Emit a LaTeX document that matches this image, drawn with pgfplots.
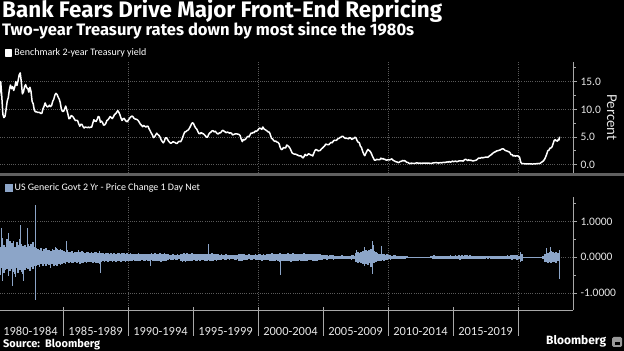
\documentclass[border=0pt]{standalone}
\usepackage{pgfplots}
\pgfplotsset{compat=1.18}
\usepackage{pgfplotstable}
\usepackage{fontspec}
\setmainfont{Carlito}
\newfontfamily\titlefont{Fira Sans}
\definecolor{bandblue}{HTML}{8CA5C8}
\definecolor{gridgray}{HTML}{5A5A5A}
\definecolor{axisgray}{HTML}{A8A8A8}
\definecolor{labgray}{HTML}{E8E8E8}
\definecolor{sepgray}{HTML}{606060}

\pgfplotstableread[row sep=\\]{
y\\
11.12\\13.08\\15.03\\12.35\\9.11\\8.52\\8.76\\10.03\\11.49\\12.13\\13.56\\14.39\\
13.73\\14.11\\13.41\\14.07\\15.01\\14.32\\15.17\\16.20\\16.60\\15.02\\12.80\\13.14\\
14.10\\14.47\\13.89\\13.78\\13.10\\13.99\\13.19\\11.42\\11.01\\9.86\\9.56\\9.58\\
9.43\\9.48\\9.43\\9.26\\9.30\\10.07\\10.55\\11.16\\10.69\\10.44\\10.50\\10.75\\
10.51\\10.71\\11.44\\11.85\\12.57\\12.90\\12.71\\12.23\\11.85\\11.21\\10.01\\9.65\\
9.64\\10.07\\10.60\\9.93\\9.19\\8.30\\8.40\\8.87\\8.77\\8.59\\8.25\\7.97\\
8.04\\7.95\\7.37\\6.96\\7.31\\7.28\\6.88\\6.63\\6.80\\6.76\\6.71\\6.79\\
6.68\\6.81\\6.79\\7.51\\8.12\\7.89\\7.81\\8.17\\8.71\\8.60\\7.67\\7.87\\
7.62\\7.14\\7.21\\7.46\\7.98\\8.11\\8.40\\8.70\\8.53\\8.34\\8.65\\9.04\\
9.21\\9.43\\9.78\\9.49\\9.05\\8.45\\7.99\\8.29\\8.37\\8.03\\7.82\\7.78\\
8.13\\8.39\\8.63\\8.78\\8.69\\8.40\\8.26\\8.22\\8.14\\7.95\\7.64\\7.31\\
7.13\\6.87\\7.10\\6.95\\6.78\\6.96\\6.92\\6.47\\6.11\\5.72\\5.39\\4.90\\
5.02\\5.37\\5.69\\5.46\\5.31\\5.04\\4.54\\4.21\\3.95\\4.21\\4.87\\4.86\\
4.57\\4.25\\4.02\\3.86\\3.98\\4.16\\4.07\\4.00\\3.85\\3.87\\4.16\\4.21\\
4.14\\4.45\\4.97\\5.53\\5.93\\5.98\\6.17\\6.26\\6.53\\6.89\\7.31\\7.58\\
7.43\\6.96\\6.63\\6.42\\5.98\\5.64\\5.59\\5.80\\5.67\\5.59\\5.42\\5.20\\
4.97\\5.00\\5.49\\5.76\\5.89\\6.10\\6.15\\5.93\\6.05\\5.82\\5.59\\5.59\\
5.77\\5.76\\6.06\\6.21\\6.08\\5.95\\5.79\\5.88\\5.85\\5.72\\5.74\\5.71\\
5.39\\5.44\\5.54\\5.57\\5.56\\5.52\\5.46\\5.27\\4.62\\4.18\\4.57\\4.48\\
4.61\\4.90\\5.11\\5.03\\5.33\\5.70\\5.68\\5.84\\5.80\\6.10\\6.03\\6.19\\
6.44\\6.61\\6.53\\6.40\\6.81\\6.48\\6.34\\6.23\\6.08\\5.91\\5.88\\5.35\\
4.76\\4.66\\4.34\\4.23\\4.26\\4.08\\4.04\\3.76\\3.12\\2.73\\2.78\\3.11\\
3.03\\3.02\\3.56\\3.42\\3.26\\2.99\\2.56\\2.13\\2.00\\1.91\\1.92\\1.84\\
1.74\\1.63\\1.57\\1.62\\1.42\\1.23\\1.47\\1.86\\1.65\\1.71\\1.97\\1.91\\
1.76\\1.74\\1.58\\2.07\\2.53\\2.76\\2.64\\2.51\\2.53\\2.58\\2.85\\3.01\\
3.22\\3.38\\3.73\\3.65\\3.64\\3.64\\3.87\\4.04\\3.95\\4.27\\4.42\\4.40\\
4.40\\4.67\\4.73\\4.89\\4.97\\5.12\\5.12\\4.90\\4.77\\4.80\\4.74\\4.67\\
4.88\\4.85\\4.57\\4.67\\4.77\\4.96\\4.82\\4.34\\4.06\\3.99\\3.35\\3.12\\
2.48\\1.97\\1.62\\2.05\\2.45\\2.77\\2.57\\2.42\\2.08\\1.61\\1.21\\0.82\\
0.81\\0.98\\0.93\\0.93\\0.92\\1.18\\1.02\\1.12\\0.96\\0.95\\0.80\\0.87\\
0.93\\0.86\\0.96\\1.06\\0.83\\0.72\\0.62\\0.52\\0.48\\0.38\\0.45\\0.62\\
0.61\\0.77\\0.70\\0.73\\0.56\\0.41\\0.41\\0.23\\0.21\\0.28\\0.25\\0.26\\
0.24\\0.28\\0.34\\0.29\\0.29\\0.29\\0.25\\0.27\\0.26\\0.28\\0.27\\0.26\\
0.27\\0.27\\0.26\\0.23\\0.25\\0.33\\0.34\\0.36\\0.40\\0.34\\0.30\\0.34\\
0.39\\0.33\\0.40\\0.42\\0.39\\0.45\\0.51\\0.47\\0.57\\0.45\\0.53\\0.64\\
0.55\\0.62\\0.64\\0.54\\0.61\\0.69\\0.67\\0.70\\0.71\\0.64\\0.88\\0.98\\
0.90\\0.73\\0.88\\0.77\\0.82\\0.73\\0.67\\0.74\\0.77\\0.84\\0.98\\1.20\\
1.21\\1.20\\1.31\\1.24\\1.30\\1.34\\1.37\\1.34\\1.38\\1.57\\1.70\\1.84\\
2.03\\2.18\\2.28\\2.38\\2.51\\2.53\\2.61\\2.65\\2.78\\2.86\\2.86\\2.68\\
2.54\\2.50\\2.41\\2.34\\2.21\\1.81\\1.84\\1.57\\1.65\\1.55\\1.61\\1.61\\
1.52\\1.33\\0.45\\0.22\\0.17\\0.19\\0.14\\0.14\\0.13\\0.14\\0.17\\0.13\\
0.13\\0.12\\0.15\\0.16\\0.16\\0.20\\0.22\\0.21\\0.24\\0.42\\0.54\\0.69\\
0.98\\1.39\\1.91\\2.54\\2.61\\2.99\\3.03\\3.26\\3.86\\4.43\\4.50\\4.29\\
4.28\\4.66\\
}\yieldtab

\pgfplotstableread[row sep=\\]{
u d\\
0.48 -0.42\\0.30 -0.50\\0.55 -0.30\\0.35 -0.45\\0.28 -0.36\\0.50 -0.32\\0.33 -0.52\\0.45 -0.38\\
0.40 -0.34\\0.46 -0.40\\0.30 -0.46\\0.42 -0.31\\0.33 -0.44\\0.50 -0.35\\0.36 -0.41\\0.31 -0.48\\
0.34 -0.36\\0.28 -0.30\\0.38 -0.34\\0.31 -0.38\\0.36 -0.27\\0.42 -0.32\\0.30 -0.25\\0.25 -0.23\\
0.24 -0.22\\0.20 -0.26\\0.26 -0.19\\0.18 -0.24\\0.22 -0.20\\0.25 -0.23\\0.19 -0.18\\0.21 -0.21\\
0.18 -0.20\\0.22 -0.18\\0.20 -0.24\\0.26 -0.21\\0.23 -0.25\\0.19 -0.19\\0.24 -0.22\\0.20 -0.20\\
0.17 -0.15\\0.15 -0.18\\0.19 -0.14\\0.14 -0.17\\0.16 -0.13\\0.18 -0.16\\0.13 -0.15\\0.15 -0.14\\
0.16 -0.17\\0.19 -0.14\\0.14 -0.19\\0.17 -0.15\\0.15 -0.16\\0.13 -0.13\\0.16 -0.15\\0.14 -0.12\\
0.12 -0.13\\0.14 -0.12\\0.13 -0.15\\0.16 -0.14\\0.15 -0.17\\0.12 -0.16\\0.18 -0.20\\0.13 -0.12\\
0.12 -0.11\\0.10 -0.12\\0.11 -0.10\\0.13 -0.12\\0.10 -0.11\\0.12 -0.09\\0.09 -0.12\\0.11 -0.10\\
0.10 -0.12\\0.12 -0.10\\0.11 -0.11\\0.10 -0.13\\0.13 -0.10\\0.11 -0.11\\0.10 -0.12\\0.12 -0.10\\
0.09 -0.10\\0.11 -0.09\\0.10 -0.11\\0.09 -0.08\\0.08 -0.10\\0.10 -0.09\\0.11 -0.10\\0.09 -0.11\\
0.10 -0.08\\0.08 -0.10\\0.09 -0.09\\0.10 -0.08\\0.08 -0.09\\0.09 -0.10\\0.11 -0.08\\0.10 -0.09\\
0.11 -0.10\\0.09 -0.11\\0.10 -0.09\\0.12 -0.10\\0.09 -0.12\\0.10 -0.09\\0.11 -0.10\\0.09 -0.11\\
0.08 -0.07\\0.07 -0.06\\0.06 -0.08\\0.08 -0.07\\0.07 -0.06\\0.06 -0.07\\0.08 -0.08\\0.07 -0.06\\
0.08 -0.09\\0.10 -0.12\\0.12 -0.10\\0.09 -0.13\\0.11 -0.10\\0.10 -0.09\\0.09 -0.11\\0.11 -0.10\\
0.10 -0.08\\0.09 -0.09\\0.08 -0.10\\0.10 -0.08\\0.09 -0.09\\0.08 -0.08\\0.09 -0.07\\0.08 -0.09\\
0.08 -0.09\\0.10 -0.08\\0.09 -0.10\\0.11 -0.09\\0.08 -0.11\\0.09 -0.08\\0.10 -0.09\\0.08 -0.08\\
0.07 -0.07\\0.08 -0.08\\0.07 -0.06\\0.06 -0.07\\0.08 -0.08\\0.07 -0.06\\0.06 -0.07\\0.07 -0.06\\
0.06 -0.06\\0.07 -0.07\\0.06 -0.07\\0.07 -0.06\\0.08 -0.09\\0.10 -0.11\\0.09 -0.10\\0.08 -0.08\\
0.07 -0.07\\0.06 -0.08\\0.08 -0.06\\0.07 -0.07\\0.06 -0.08\\0.07 -0.06\\0.08 -0.07\\0.06 -0.07\\
0.08 -0.07\\0.09 -0.08\\0.07 -0.09\\0.08 -0.07\\0.07 -0.08\\0.08 -0.07\\0.09 -0.08\\0.08 -0.09\\
0.11 -0.10\\0.09 -0.11\\0.10 -0.09\\0.08 -0.08\\0.09 -0.10\\0.12 -0.13\\0.10 -0.11\\0.09 -0.09\\
0.09 -0.10\\0.10 -0.09\\0.11 -0.11\\0.09 -0.10\\0.10 -0.12\\0.12 -0.10\\0.10 -0.09\\0.09 -0.10\\
0.08 -0.09\\0.09 -0.08\\0.10 -0.10\\0.09 -0.09\\0.11 -0.10\\0.10 -0.11\\0.08 -0.09\\0.09 -0.08\\
0.08 -0.08\\0.09 -0.09\\0.10 -0.11\\0.09 -0.10\\0.08 -0.09\\0.09 -0.08\\0.08 -0.07\\0.07 -0.08\\
0.06 -0.06\\0.07 -0.05\\0.06 -0.07\\0.05 -0.06\\0.06 -0.05\\0.07 -0.06\\0.06 -0.07\\0.05 -0.05\\
0.05 -0.05\\0.04 -0.04\\0.05 -0.05\\0.06 -0.04\\0.05 -0.06\\0.04 -0.05\\0.05 -0.04\\0.04 -0.05\\
0.05 -0.06\\0.07 -0.08\\0.06 -0.05\\0.05 -0.06\\0.12 -0.13\\0.14 -0.15\\0.13 -0.12\\0.15 -0.16\\
0.18 -0.20\\0.22 -0.24\\0.20 -0.18\\0.17 -0.21\\0.19 -0.17\\0.24 -0.26\\0.21 -0.22\\0.18 -0.15\\
0.14 -0.13\\0.12 -0.11\\0.10 -0.10\\0.09 -0.09\\0.10 -0.08\\0.08 -0.09\\0.07 -0.07\\0.08 -0.08\\
0.07 -0.06\\0.06 -0.07\\0.05 -0.05\\0.06 -0.06\\0.07 -0.05\\0.05 -0.04\\0.04 -0.05\\0.05 -0.04\\
0.05 -0.04\\0.04 -0.05\\0.05 -0.04\\0.04 -0.03\\0.02 -0.02\\0.02 -0.015\\0.015 -0.015\\0.015 -0.01\\
0.012 -0.012\\0.010 -0.014\\0.014 -0.010\\0.012 -0.012\\0.010 -0.013\\0.013 -0.010\\0.012 -0.012\\0.011 -0.013\\
0.012 -0.012\\0.015 -0.015\\0.03 -0.03\\0.05 -0.06\\0.06 -0.05\\0.05 -0.06\\0.04 -0.04\\0.05 -0.05\\
0.04 -0.04\\0.05 -0.04\\0.04 -0.05\\0.05 -0.04\\0.04 -0.05\\0.05 -0.05\\0.06 -0.04\\0.05 -0.05\\
0.05 -0.05\\0.06 -0.06\\0.05 -0.05\\0.06 -0.05\\0.05 -0.07\\0.06 -0.05\\0.05 -0.06\\0.06 -0.05\\
0.06 -0.05\\0.05 -0.06\\0.06 -0.05\\0.04 -0.05\\0.05 -0.04\\0.04 -0.05\\0.05 -0.06\\0.05 -0.04\\
0.04 -0.04\\0.05 -0.04\\0.04 -0.05\\0.04 -0.04\\0.03 -0.03\\0.04 -0.04\\0.04 -0.03\\0.05 -0.04\\
0.04 -0.05\\0.05 -0.04\\0.04 -0.04\\0.05 -0.05\\0.04 -0.04\\0.04 -0.05\\0.05 -0.04\\0.04 -0.05\\
0.05 -0.05\\0.06 -0.06\\0.05 -0.06\\0.06 -0.05\\0.07 -0.07\\0.06 -0.06\\0.07 -0.06\\0.06 -0.07\\
0.05 -0.06\\0.14 -0.12\\0.08 -0.09\\0.02 -0.02\\0.01 -0.01\\0.008 -0.008\\0.008 -0.008\\0.008 -0.008\\
0.008 -0.008\\0.01 -0.01\\0.01 -0.01\\0.01 -0.012\\0.012 -0.01\\0.015 -0.015\\0.02 -0.02\\0.05 -0.06\\
0.10 -0.12\\0.16 -0.14\\0.12 -0.15\\0.14 -0.13\\0.18 -0.16\\0.15 -0.14\\0.13 -0.12\\0.14 -0.15\\
0.12 -0.10\\0.20 -0.24\\
}\chgtab

\begin{document}
\begin{tikzpicture}
\fill[black] (0,0) rectangle (624bp,351bp);

% titles
\node[anchor=base west, inner sep=0pt, text=white] at (2bp,333bp)
  {\resizebox{440bp}{!}{\titlefont\bfseries Bank Fears Drive Major Front-End Repricing}};
\node[anchor=base west, inner sep=0pt, text=white] at (2bp,315.5bp)
  {\resizebox{412bp}{!}{\titlefont\bfseries Two-year Treasury rates down by most since the 1980s}};

% panel separator
\draw[sepgray, line width=3bp] (0,176bp) -- (624bp,176bp);

% top panel
\begin{axis}[
  at={(0bp,178bp)}, anchor=south west, scale only axis,
  width=573bp, height=111bp,
  xmin=1980.154, xmax=2024.23, ymin=-1.5, ymax=18.56,
  axis x line*=bottom, axis y line*=right,
  x axis line style={draw=none},
  y axis line style={draw=axisgray, line width=0.8bp},
  xtick={1990,2000,2010,2020}, xticklabels={}, xtick style={draw=none},
  ytick={0,5,10,15}, minor ytick={2.5,7.5,12.5,17.5},
  ytick style={draw=axisgray, line width=0.8bp},
  tick align=outside, major tick length=4bp, minor tick length=2.5bp,
  /pgf/number format/assume math mode=true,
  yticklabel style={font=\fontsize{11.5}{12}\selectfont, text=labgray,
    /pgf/number format/fixed, /pgf/number format/fixed zerofill,
    /pgf/number format/precision=1},
  xmajorgrids, ymajorgrids,
  grid style={gridgray, dash pattern=on 0.8bp off 1.4bp, line width=0.6bp},
  ylabel={Percent},
  ylabel style={font=\fontsize{15}{16}\selectfont, text=labgray, rotate=180,
    at={(axis description cs:1.068,0.5)}, anchor=center},
  legend style={at={(axis description cs:0.0087,1.081)}, anchor=west,
    draw=none, fill=none, inner sep=0pt, outer sep=0pt,
    font=\fontsize{10}{11}\selectfont, text=white,
    nodes={inner sep=0pt}, column sep=2bp},
  legend cell align=left,
  legend image code/.code={\fill[white] (0bp,-3bp) rectangle (6bp,3bp);},
]
\addplot[white, line width=1.5bp, line join=round] table[x expr={1980+(\coordindex+0.5)/12}, y=y] {\yieldtab};
\addlegendentry{Benchmark 2-year Treasury yield}
\addplot[white, line width=1.5bp, line join=round, forget plot] coordinates {(2023.125,4.66) (2023.15,4.45) (2023.18,4.9) (2023.21,5.05)};
\end{axis}

% bottom panel
\begin{axis}[
  at={(0bp,41bp)}, anchor=south west, scale only axis,
  width=573bp, height=113bp,
  xmin=1980.154, xmax=2024.23, ymin=-1.472, ymax=1.684,
  axis x line*=bottom, axis y line*=right,
  x axis line style={draw=axisgray, line width=0.8bp},
  y axis line style={draw=axisgray, line width=0.8bp},
  xtick={1982.5,1987.5,1992.5,1997.5,2002.5,2007.5,2012.5,2017.5},
  xticklabels={1980-1984,1985-1989,1990-1994,1995-1999,2000-2004,2005-2009,2010-2014,2015-2019},
  xtick style={draw=none},
  xticklabel style={font=\fontsize{12.5}{13}\selectfont, text=labgray, anchor=base, yshift=-21bp},
  extra x ticks={1990,2000,2010,2020}, extra x tick labels={},
  extra x tick style={grid=major},
  ytick={-1,0,1}, minor ytick={-1.5,-0.5,0.5,1.5},
  ytick style={draw=axisgray, line width=0.8bp},
  tick align=outside, major tick length=4bp, minor tick length=2.5bp,
  /pgf/number format/assume math mode=true,
  yticklabel style={font=\fontsize{11.5}{12}\selectfont, text=labgray,
    /pgf/number format/fixed, /pgf/number format/fixed zerofill,
    /pgf/number format/precision=4},
  ymajorgrids,
  grid style={gridgray, dash pattern=on 0.8bp off 1.4bp, line width=0.6bp},
  legend style={at={(axis description cs:0.0087,1.0796)}, anchor=west,
    draw=none, fill=none, inner sep=0pt, outer sep=0pt,
    font=\fontsize{10}{11}\selectfont, text=white,
    nodes={inner sep=0pt}, column sep=2bp},
  legend cell align=left,
  legend image code/.code={\fill[bandblue] (0bp,-3bp) rectangle (6bp,3bp);},
]
\addplot[ycomb, bandblue, line width=1.65bp] table[x expr={1980+(\coordindex+0.5)/8}, y=u] {\chgtab};
\addlegendentry{US Generic Govt 2 Yr - Price Change 1 Day Net}
\addplot[ycomb, bandblue, line width=1.65bp, forget plot] table[x expr={1980+(\coordindex+0.5)/8}, y=d] {\chgtab};
\addplot[ycomb, bandblue, line width=0.9bp, forget plot] coordinates {
 (1980.28,0.82) (1980.38,-0.65) (1980.77,0.68) (1981.08,-0.79) (1981.31,-0.56)
 (1981.69,0.90) (1981.92,-0.65) (1982.23,0.82) (1982.85,1.46) (1982.85,-1.20)
 (1984.0,-0.30) (1984.4,0.30) (1985.3,0.45) (1987.85,-0.45) (1991.7,-0.25)
 (1996.15,0.37) (2001.7,-0.50) (2007.6,0.20) (2008.2,0.30) (2008.77,0.45)
 (2008.77,-0.48) (2008.9,0.35) (2009.46,0.31) (2022.2,0.25) (2022.46,0.28)
 (2023.22,-0.62)};
\end{axis}

% category separators below the lower panel
\foreach \xx in {63,128,193,258,323,388,453,518}
  \draw[axisgray, line width=0.7bp] (\xx bp,15bp) -- (\xx bp,44bp);

% footer
\node[anchor=base west, inner sep=0pt, text=white] at (3bp,3bp)
  {\resizebox{97bp}{!}{\titlefont\bfseries Source:\ \ Bloomberg}};
\node[anchor=base west, inner sep=0pt, text=white] at (546bp,6bp)
  {\resizebox{60bp}{!}{\titlefont\bfseries Bloomberg}};
\fill[gray!80, rounded corners=1.5bp] (612bp,4bp) rectangle (622bp,14bp);
\fill[black] (614.5bp,6bp) rectangle (619.5bp,9bp);

\pgfresetboundingbox
\path[use as bounding box] (0,0) rectangle (624bp,351bp);
\end{tikzpicture}
\end{document}
